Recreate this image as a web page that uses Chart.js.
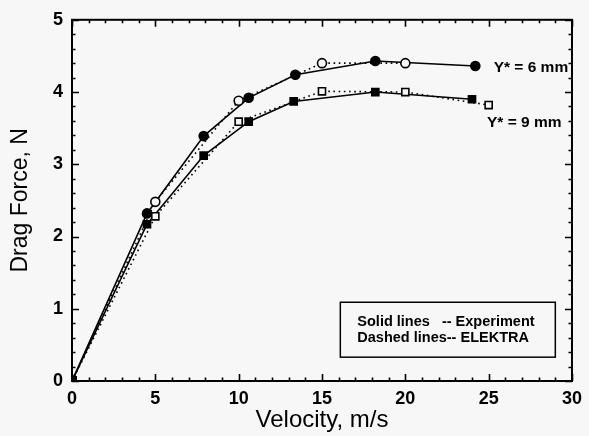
<!DOCTYPE html>
<html><head><meta charset="utf-8">
<script src="https://cdn.jsdelivr.net/npm/chart.js@4/dist/chart.umd.min.js"></script>
<style>html,body{margin:0;padding:0;background:#f7f7f7;overflow:hidden}#wrap{width:589px;height:436px}</style>
</head><body><div id="wrap"><canvas id="c" width="589" height="436"></canvas></div>
<script>
// Data
const expVel6   = [0, 4.5, 7.9, 10.6, 13.4, 18.2, 24.2];
const expForce6 = [0, 2.32, 3.39, 3.92, 4.24, 4.43, 4.36];
const elkVel6   = [0, 5.0, 10.0, 15.0, 20.0];
const elkForce6 = [0, 2.48, 3.88, 4.40, 4.40];
const expVel9   = [0, 4.5, 7.9, 10.6, 13.3, 18.2, 24.0];
const expForce9 = [0, 2.17, 3.12, 3.59, 3.87, 4.00, 3.90];
const elkVel9   = [0, 5.0, 10.0, 15.0, 20.0, 25.0];
const elkForce9 = [0, 2.28, 3.59, 4.01, 4.00, 3.82];

const xTitle = 'Velocity, m/s';
const yTitle = 'Drag Force, N';
const seriesLabels = ['Y* = 6 mm', 'Y* = 9 mm'];
const legendLines = ['Solid lines   -- Experiment', 'Dashed lines-- ELEKTRA'];
const xRange = [0, 30], xMajor = 5, xMinor = 1;
const yRange = [0, 5], yMajor = 1, yMinor = 0.2;

const FONT = "'Liberation Sans', Arial, Helvetica, sans-serif";
const BG = '#f7f7f7';
const pts = (xs, ys) => xs.map((v, i) => ({x: v, y: ys[i]}));

function ds(label, xs, ys, style, filled, dashed) {
  return {
    label, data: pts(xs, ys),
    borderColor: '#000', borderWidth: 1.6,
    borderDash: dashed ? [1.6, 3.6] : [],
    showLine: true, tension: 0, fill: false,
    pointStyle: xs.map((v, i) => i === 0 ? 'rect' : style),
    pointRadius: xs.map((v, i) => i === 0 ? 5.5 : (style === 'rect' ? 5 : 4.5)),
    pointBackgroundColor: xs.map((v, i) => (i === 0 || filled) ? '#000' : BG),
    pointBorderColor: '#000', pointBorderWidth: 1.6
  };
}

const deco = {
  id: 'deco',
  afterDraw(chart) {
    const {ctx, chartArea: a, scales: {x, y}} = chart;
    ctx.save();
    ctx.strokeStyle = '#000';
    ctx.lineWidth = 2;
    ctx.strokeRect(a.left, a.top, a.right - a.left, a.bottom - a.top);
    ctx.lineWidth = 1.6;
    ctx.beginPath();
    const nx = Math.round((xRange[1] - xRange[0]) / xMinor);
    for (let i = 0; i <= nx; i++) {
      const v = xRange[0] + i * xMinor;
      const px = Math.round(x.getPixelForValue(v)) + 0.5;
      const major = Math.abs(v / xMajor - Math.round(v / xMajor)) < 1e-6;
      const L = major ? 7 : 3.5;
      ctx.moveTo(px, a.bottom); ctx.lineTo(px, a.bottom - L);
      ctx.moveTo(px, a.top); ctx.lineTo(px, a.top + L);
    }
    const ny = Math.round((yRange[1] - yRange[0]) / yMinor);
    for (let i = 0; i <= ny; i++) {
      const v = yRange[0] + i * yMinor;
      const py = Math.round(y.getPixelForValue(v)) + 0.5;
      const major = Math.abs(v / yMajor - Math.round(v / yMajor)) < 1e-6;
      const L = major ? 7 : 3.5;
      ctx.moveTo(a.left, py); ctx.lineTo(a.left + L, py);
      ctx.moveTo(a.right, py); ctx.lineTo(a.right - L, py);
    }
    ctx.stroke();

    // series labels
    ctx.fillStyle = '#000';
    ctx.font = 'bold 15.5px ' + FONT;
    ctx.textBaseline = 'middle';
    ctx.textAlign = 'left';
    ctx.fillText(seriesLabels[0], x.getPixelForValue(25.3), y.getPixelForValue(4.33));
    ctx.fillText(seriesLabels[1], x.getPixelForValue(24.9), y.getPixelForValue(3.58));

    // legend box
    const bx0 = x.getPixelForValue(16.1), bx1 = x.getPixelForValue(29.0);
    const by0 = y.getPixelForValue(1.09), by1 = y.getPixelForValue(0.33);
    ctx.lineWidth = 1.5;
    ctx.fillStyle = BG;
    ctx.fillRect(bx0, by0, bx1 - bx0, by1 - by0);
    ctx.strokeRect(bx0, by0, bx1 - bx0, by1 - by0);
    ctx.fillStyle = '#000';
    ctx.font = 'bold 14.5px ' + FONT;
    ctx.fillText(legendLines[0], bx0 + 17, by0 + 20);
    ctx.fillText(legendLines[1], bx0 + 17, by0 + 36);
    ctx.restore();
  }
};

new Chart(document.getElementById('c'), {
  type: 'scatter',
  data: {
    datasets: [
      ds('ELEKTRA 6 mm', elkVel6, elkForce6, 'circle', false, true),
      ds('ELEKTRA 9 mm', elkVel9, elkForce9, 'rect', false, true),
      ds('Experiment 6 mm', expVel6, expForce6, 'circle', true, false),
      ds('Experiment 9 mm', expVel9, expForce9, 'rect', true, false)
    ]
  },
  options: {
    responsive: false, animation: false,
    layout: {padding: {top: 14, right: 16, left: 0, bottom: 0}},
    plugins: {legend: {display: false}, tooltip: {enabled: false}},
    scales: {
      x: {
        type: 'linear', min: xRange[0], max: xRange[1],
        ticks: {stepSize: xMajor, color: '#000', font: {family: FONT, size: 18, weight: 'bold'}, padding: 7, maxRotation: 0},
        grid: {display: false, drawTicks: false},
        border: {color: '#000', width: 2},
        title: {display: true, text: xTitle, color: '#000', font: {family: FONT, size: 24}, padding: {top: 0, bottom: 1}},
        afterFit(s) { s.height = 55; }
      },
      y: {
        type: 'linear', min: yRange[0], max: yRange[1],
        ticks: {stepSize: yMajor, color: '#000', font: {family: FONT, size: 18, weight: 'bold'}, padding: 9},
        grid: {display: false, drawTicks: false},
        border: {color: '#000', width: 2},
        title: {display: true, text: yTitle, color: '#000', font: {family: FONT, size: 23}, padding: {top: 7, bottom: 0}},
        afterFit(s) { s.width = 72; }
      }
    }
  },
  plugins: [deco]
});
</script>
</body></html>
